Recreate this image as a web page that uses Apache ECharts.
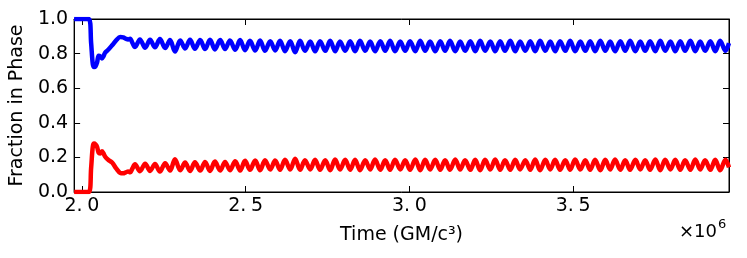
<!DOCTYPE html>
<html>
<head>
<meta charset="utf-8">
<script src="https://cdn.jsdelivr.net/npm/echarts@6/dist/echarts.min.js"></script>
<style>
html,body{margin:0;padding:0;background:#fff;}
#c{width:747px;height:258px;}
</style>
</head>
<body>
<div id="c"></div>
<script>
// Time in units of 10^6 GM/c^3
const timeE6 = [
1.976,2.021,2.028,2.033,2.037,2.041,2.046,2.051,2.056,2.061,2.065,2.071,2.080,2.092,2.105,2.117,2.126,2.134,2.141,2.147,2.154,
2.162,2.177,2.193,2.208,2.223,2.238,2.254,2.269,2.284,2.300,
2.315,2.330,2.345,2.361,2.376,2.391,2.406,2.422,2.437,2.452,
2.468,2.483,2.498,2.513,2.529,2.544,2.559,2.575,2.590,2.605,
2.620,2.636,2.651,2.666,2.681,2.697,2.712,2.727,2.743,2.758,
2.773,2.788,2.804,2.819,2.834,2.849,2.865,2.880,2.895,2.911,
2.926,2.941,2.956,2.972,2.987,3.002,3.018,3.033,3.048,3.063,
3.079,3.094,3.109,3.124,3.140,3.155,3.170,3.186,3.201,3.216,
3.231,3.247,3.262,3.277,3.292,3.308,3.323,3.338,3.354,3.369,
3.384,3.399,3.415,3.430,3.445,3.460,3.476,3.491,3.506,3.522,
3.537,3.552,3.567,3.583,3.598,3.613,3.628,3.644,3.659,3.674,
3.690,3.705,3.720,3.735,3.751,3.766,3.781,3.797,3.812,3.827,
3.842,3.858,3.873,3.888,3.903,3.919,3.934,3.949,3.965,
3.976
];
const bluePhase = [
1.000,1.000,0.860,0.740,0.722,0.726,0.748,0.788,0.784,0.772,0.782,0.806,0.822,0.848,0.878,0.896,0.894,0.886,0.882,0.886,0.862,
0.838,0.882,0.834,0.880,0.836,0.884,0.832,0.878,0.812,0.876,
0.830,0.880,0.828,0.878,0.826,0.880,0.824,0.878,0.826,0.876,
0.822,0.878,0.820,0.874,0.818,0.876,0.816,0.872,0.818,0.874,
0.814,0.872,0.808,0.874,0.816,0.870,0.814,0.872,0.816,0.874,
0.814,0.870,0.816,0.872,0.814,0.874,0.816,0.870,0.814,0.872,
0.816,0.874,0.814,0.870,0.816,0.872,0.814,0.874,0.816,0.870,
0.814,0.872,0.816,0.874,0.814,0.870,0.816,0.872,0.814,0.874,
0.816,0.870,0.814,0.872,0.816,0.874,0.814,0.870,0.816,0.872,
0.814,0.874,0.816,0.870,0.814,0.872,0.816,0.874,0.814,0.870,
0.816,0.872,0.814,0.874,0.816,0.870,0.814,0.872,0.816,0.874,
0.814,0.870,0.816,0.872,0.814,0.874,0.816,0.870,0.814,0.872,
0.816,0.874,0.814,0.870,0.816,0.872,0.814,0.874,0.816,
0.860
];
const redPhase = [
0.000,0.000,0.140,0.262,0.280,0.276,0.262,0.226,0.222,0.236,0.226,0.204,0.186,0.170,0.135,0.110,0.108,0.114,0.118,0.114,0.136,
0.160,0.120,0.164,0.122,0.162,0.118,0.166,0.124,0.190,0.126,
0.170,0.122,0.172,0.124,0.174,0.122,0.176,0.124,0.174,0.126,
0.178,0.124,0.180,0.128,0.182,0.126,0.184,0.130,0.182,0.128,
0.186,0.130,0.192,0.128,0.184,0.130,0.186,0.128,0.184,0.126,
0.188,0.130,0.186,0.128,0.186,0.126,0.184,0.130,0.188,0.128,
0.184,0.128,0.186,0.130,0.184,0.128,0.188,0.126,0.186,0.130,
0.186,0.128,0.184,0.128,0.188,0.130,0.184,0.128,0.186,0.126,
0.186,0.130,0.188,0.128,0.184,0.128,0.186,0.130,0.184,0.128,
0.188,0.126,0.186,0.130,0.186,0.128,0.184,0.128,0.188,0.130,
0.184,0.128,0.186,0.126,0.186,0.130,0.188,0.128,0.184,0.128,
0.186,0.130,0.184,0.128,0.188,0.126,0.186,0.130,0.186,0.128,
0.184,0.128,0.188,0.130,0.184,0.128,0.186,0.126,0.186,
0.142
];
const xTickValues = [2.0, 2.5, 3.0, 3.5];

const FONT = 'DejaVu Sans';
const chart = echarts.init(document.getElementById('c'), null, {renderer:'canvas'});
const tickStyle = {show:true, inside:true, length:6, lineStyle:{color:'#000', width:1}};
const xMin = 1.976, xMax = 3.976;
chart.setOption({
  animation:false,
  backgroundColor:'#fff',
  grid:{left:68, right:18, top:19, bottom:66, show:true, borderColor:'#000', borderWidth:1, backgroundColor:'transparent'},
  xAxis:[{
    type:'value', min:xMin, max:xMax, position:'bottom',
    axisLine:{show:true, onZero:false, lineStyle:{color:'#000', width:1}},
    axisTick:Object.assign({customValues:xTickValues}, tickStyle),
    axisLabel:{customValues:xTickValues, margin:5, color:'#000', fontFamily:FONT, fontSize:19,
      formatter:v=>v.toFixed(1).replace('.', '.\u2005')},
    splitLine:{show:false},
    name:'Time (GM/c\u00B3)', nameLocation:'middle', nameGap:34,
    nameTextStyle:{color:'#000', fontFamily:FONT, fontSize:19}
  },{
    type:'value', min:xMin, max:xMax, position:'top',
    axisLine:{show:true, onZero:false, lineStyle:{color:'#000', width:1}},
    axisTick:Object.assign({customValues:xTickValues}, tickStyle),
    axisLabel:{show:false}, splitLine:{show:false}
  }],
  yAxis:[{
    type:'value', min:0, max:1, interval:0.2, position:'left',
    axisLine:{show:true, onZero:false, lineStyle:{color:'#000', width:1}},
    axisTick:tickStyle,
    axisLabel:{margin:6, color:'#000', fontFamily:FONT, fontSize:19, formatter:v=>v.toFixed(1)},
    splitLine:{show:false},
    name:'Fraction in Phase', nameLocation:'middle', nameGap:44, nameRotate:90,
    nameTextStyle:{color:'#000', fontFamily:FONT, fontSize:19}
  },{
    type:'value', min:0, max:1, interval:0.2, position:'right',
    axisLine:{show:true, onZero:false, lineStyle:{color:'#000', width:1}},
    axisTick:tickStyle, axisLabel:{show:false}, splitLine:{show:false}
  }],
  graphic:[{
    type:'text', left:679, top:223,
    style:{text:'\u00D710', fill:'#000', font:'18px "DejaVu Sans"'}
  },{
    type:'text', left:718, top:218,
    style:{text:'6', fill:'#000', font:'13px "DejaVu Sans"'}
  }],
  series:[{
    type:'line', name:'blue', xAxisIndex:0, yAxisIndex:0, showSymbol:false, smooth:0.35,
    lineStyle:{color:'#0000ff', width:4.5}, itemStyle:{color:'#0000ff'},
    data:timeE6.map((t,i)=>[t, bluePhase[i]])
  },{
    type:'line', name:'red', xAxisIndex:0, yAxisIndex:0, showSymbol:false, smooth:0.35,
    lineStyle:{color:'#ff0000', width:4.5}, itemStyle:{color:'#ff0000'},
    data:timeE6.map((t,i)=>[t, redPhase[i]])
  }]
});
</script>
</body>
</html>
